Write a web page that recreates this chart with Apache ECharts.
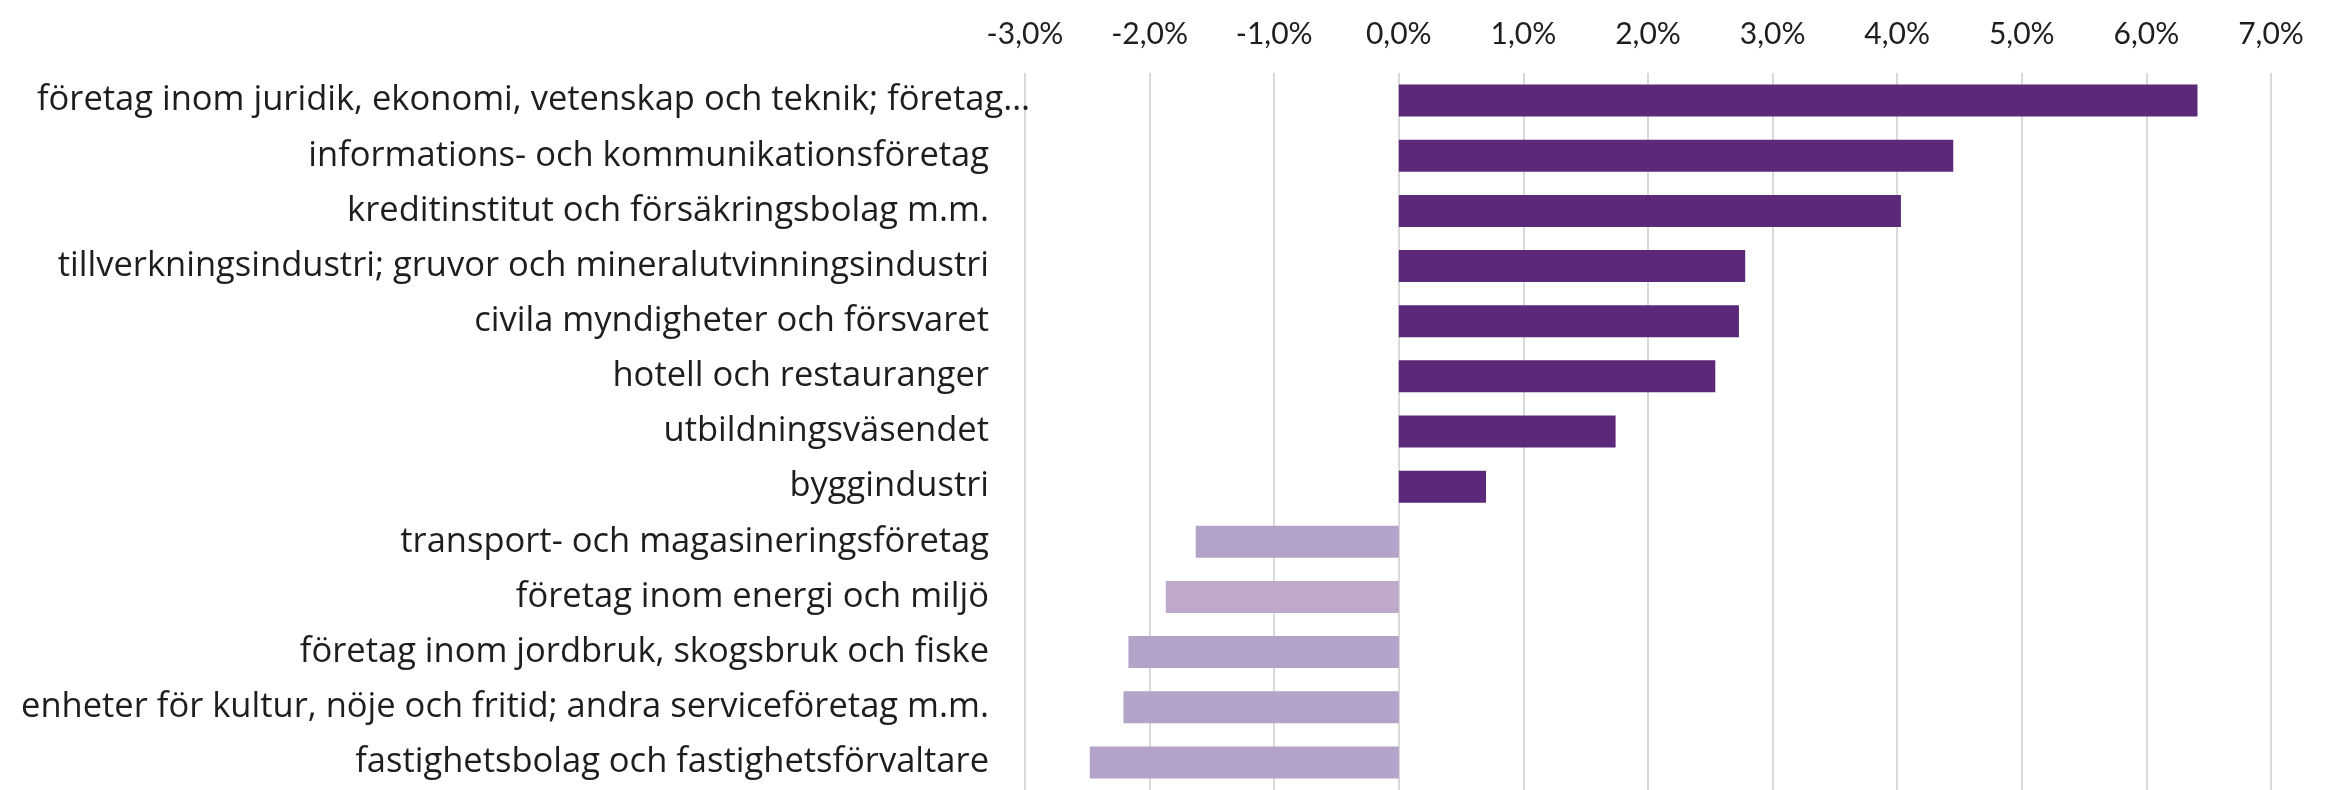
<!DOCTYPE html>
<html>
<head>
<meta charset="utf-8">
<script src="https://cdn.jsdelivr.net/npm/echarts@6/dist/echarts.min.js"></script>
<style>
    html, body { margin: 0; padding: 0; background: #fff; }
    #chart { width: 2333px; height: 790px; }
</style>
</head>
<body>
<div id="chart"></div>
<script>
// branscher, uppifrån och ned
const categories = [
    'företag inom juridik, ekonomi, vetenskap och teknik; företag…',
    'informations- och kommunikationsföretag',
    'kreditinstitut och försäkringsbolag m.m.',
    'tillverkningsindustri; gruvor och mineralutvinningsindustri',
    'civila myndigheter och försvaret',
    'hotell och restauranger',
    'utbildningsväsendet',
    'byggindustri',
    'transport- och magasineringsföretag',
    'företag inom energi och miljö',
    'företag inom jordbruk, skogsbruk och fiske',
    'enheter för kultur, nöje och fritid; andra serviceföretag m.m.',
    'fastighetsbolag och fastighetsförvaltare',
]
// förändring i procent
const values = [6.41, 4.45, 4.03, 2.78, 2.73, 2.54, 1.74, 0.70, -1.63, -1.87, -2.17, -2.21, -2.48]
const axisMin = -3
const axisMax = 7
const axisStep = 1

const darkColor = '#5c2879'
const lightColor = '#b3a3c8'
const lightAltColor = '#bea9cb' // energi och miljö är lite ljusare i originalet

const labelFont = '"Open Sans", "Noto Sans", sans-serif'
const tickFont = 'Lato, "Noto Sans", sans-serif'

let chart = echarts.init(document.getElementById('chart'))
let option = {
    backgroundColor: '#fff',
    animation: false,
    grid: {
        top: 73,
        left: 1025,
        right: 62,
        height: 723,
        containLabel: false,
    },
    xAxis: {
        type: 'value',
        position: 'top',
        min: axisMin,
        max: axisMax,
        interval: axisStep,
        axisLine: { show: false },
        axisTick: { show: false },
        splitLine: {
            show: true,
            lineStyle: { color: '#d9d9d9', width: 2 },
        },
        axisLabel: {
            margin: 24,
            fontFamily: tickFont,
            fontSize: 30,
            color: '#1e1e1e',
            formatter: v => v.toFixed(1).replace('.', ',') + '%',
        },
    },
    yAxis: {
        type: 'category',
        inverse: true,
        data: categories,
        axisLine: { show: false },
        axisTick: { show: false },
        axisLabel: {
            margin: 36,
            fontFamily: labelFont,
            fontSize: 34.5,
            color: '#1e1e1e',
            formatter: (v, i) => (i === 0 ? '{first|' + v + '}' : v),
            rich: {
                first: {
                    fontFamily: labelFont,
                    fontSize: 34.5,
                    color: '#1e1e1e',
                    padding: [0, -41, 0, 0],
                },
            },
        },
    },
    series: [
        {
            type: 'bar',
            barWidth: 32,
            data: values.map((v, i) => ({
                value: v,
                itemStyle: {
                    color: v >= 0 ? darkColor : i === 9 ? lightAltColor : lightColor,
                },
            })),
        },
    ],
}
chart.setOption(option, true)
</script>
</body>
</html>
